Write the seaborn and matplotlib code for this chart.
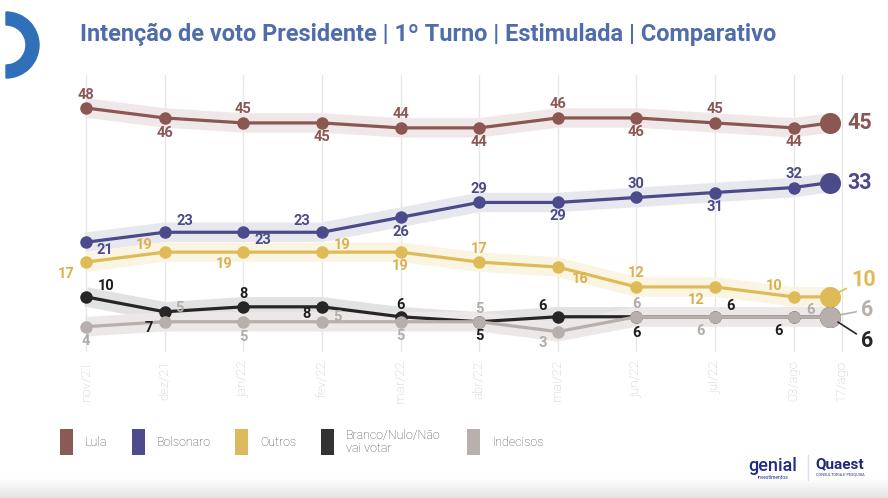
import numpy as np
import pandas as pd
import matplotlib
matplotlib.use("Agg")
import matplotlib.pyplot as plt
import seaborn as sns
from matplotlib.patches import Wedge, Rectangle
from matplotlib import font_manager

# ---------------- data ----------------
periodos = ["nov/21", "dez/21", "jan/22", "fev/22", "mar/22", "abr/22",
            "mai/22", "jun/22", "jul/22", "03/ago", "17/ago"]
x_pontos = [0, 1, 2, 3, 4, 5, 6, 7, 8, 9, 9.46]      # position of each survey
x_ticks = [0, 1, 2, 3, 4, 5, 6, 7, 8, 9, 9.61]       # position of each tick label
series = ["Lula", "Bolsonaro", "Outros", "Branco/Nulo/Não\nvai votar", "Indecisos"]
lula = [48, 46, 45, 45, 44, 44, 46, 46, 45, 44, 45]
bolsonaro = [21, 23, 23, 23, 26, 29, 29, 30, 31, 32, 33]
outros = [17, 19, 19, 19, 19, 17, 16, 12, 12, 10, 10]
branco = [10, 7, 8, 8, 6, 5, 6, 6, 6, 6, 6]
indecisos = [4, 5, 5, 5, 5, 5, 3, 6, 6, 6, 6]
valores = [lula, bolsonaro, outros, branco, indecisos]

# ---------------- style ----------------
cores = ["#8a5753", "#4c4a8a", "#dfbb58", "#262626", "#b6afac"]
cores_rotulo = ["#8a5753", "#4c4a8a", "#d9b24f", "#1e1e1e", "#b3adaa"]
cores_halo = ["#f0e8e8", "#e7e7ee", "#faf5e2", "#e2e2e2", "#ebe8e7"]
cores_legenda = ["#8a5a57", "#4d4b8b", "#dcb95e", "#333333", "#b8b0ad"]

# label offsets in pixels (dx, dy down-positive) for the first 10 points
offs = [
    [(0, -13), (0, 15), (0, -14), (0, 14), (0, -14), (0, 14), (0, -14), (0, 14), (0, -14), (0, 14)],
    [(19, 8), (20, -11), (20, 8), (-20, -11), (0, 15), (0, -13), (0, 14), (0, -13), (0, 14), (0, -14)],
    [(-20, 12), (-20, -7), (-19, 12), (20, -7), (0, 14), (0, -13), (22, 12), (0, -14), (-19, 13), (-19, -11)],
    [(20, -11), (-16, 16), (0, -13), (-15, 7), (0, -12), (0, 14), (-15, -11), (0, 16), (15, -11), (-15, 14)],
    [(0, 14), (15, -14), (0, 15), (15, -5), (0, 14), (0, -13), (-15, 11), (0, -13), (-15, 14), (17, -7)],
]
# final labels: (dx, dy) in px, connector?
final_off = [(18, 0, False), (18, 0, False), (21, -17, True), (31, 24, True), (31, -7, True)]

W, H = 888, 498
fig = plt.figure(figsize=(W / 100, H / 100), dpi=100)
sns.set_style("white")
plt.rcParams["font.family"] = ["Roboto", "DejaVu Sans"]

def px2fig(x0, y0, x1, y1):
    return [x0 / W, 1 - y1 / H, (x1 - x0) / W, (y1 - y0) / H]

ax = fig.add_axes(px2fig(40, 75, 888, 352))
ax.set_xlim(-0.585, 10.2)
ax.set_ylim(-1.09, 54.64)

rows = []
for s, v in zip(series, valores):
    for xp, val in zip(x_pontos, v):
        rows.append({"x": xp, "serie": s, "valor": val})
df = pd.DataFrame(rows)

# gridlines
for xt in x_ticks:
    ax.axvline(xt, color="#e6e6e6", lw=1.0, zorder=0)

# halos
sns.lineplot(data=df, x="x", y="valor", hue="serie", hue_order=series,
             palette=dict(zip(series, cores_halo)), linewidth=14, legend=False,
             ax=ax, zorder=1, solid_capstyle="butt")
for line in ax.lines[len(x_ticks):]:
    line.set_solid_joinstyle("round")

# lines with markers (drawn per series to keep order)
for i, s in enumerate(series):
    sub = df[df.serie == s]
    sns.lineplot(data=sub, x="x", y="valor", color=cores[i], linewidth=2.3,
                 marker="o", markersize=9, markeredgewidth=0, legend=False,
                 ax=ax, zorder=3 + i)
    last = sub.iloc[[-1]]
    sns.scatterplot(data=last, x="x", y="valor", color=cores[i], s=230,
                    linewidth=0, legend=False, ax=ax, zorder=3 + i)

PT = 0.72
for i, s in enumerate(series):
    v = valores[i]
    for j in range(10):
        dx, dy = offs[i][j]
        ax.annotate(str(v[j]), (x_pontos[j], v[j]), xytext=(dx * PT, -dy * PT),
                    textcoords="offset points", ha="center", va="center",
                    fontsize=10.5, fontweight="bold", color=cores_rotulo[i], zorder=10)
    dx, dy, conn = final_off[i]
    kw = {}
    if conn:
        kw["arrowprops"] = dict(arrowstyle="-", color=cores[i], lw=1.2,
                                shrinkA=1, shrinkB=7)
    ax.annotate(str(v[-1]), (x_pontos[-1], v[-1]), xytext=(dx * PT, -dy * PT),
                textcoords="offset points", ha="left", va="center",
                fontsize=15.5, fontweight="bold", color=cores[i], zorder=10, **kw)

ax.set_xticks(x_ticks)
ax.set_xticklabels(periodos, rotation=90, color="#c4c4c4", fontsize=9.5,
                   fontweight="light", va="top")
ax.tick_params(axis="x", length=0, pad=6)
ax.set_yticks([])
ax.set_xlabel("")
ax.set_ylabel("")
for sp in ax.spines.values():
    sp.set_visible(False)
ax.patch.set_alpha(0)

# ---------------- overlay (decorations) ----------------
ov = fig.add_axes([0, 0, 1, 1], zorder=-1)
ov.axis("off")
ov.add_patch(Wedge((6, 45), 33, -90, 90, width=13, color="#2f70b8"))
grad = np.linspace(0, 1, 30).reshape(-1, 1)
ov.imshow(grad, extent=[0, W, 498, 478], cmap=matplotlib.colors.LinearSegmentedColormap.from_list(
    "g", ["#ffffff", "#e4e4e4"]), aspect="auto", zorder=0)
ov.set_xlim(0, W)
ov.set_ylim(H, 0)

# title, fitted to reference width
names = {f.name for f in font_manager.fontManager.ttflist}
tfam = "Liberation Sans Narrow" if "Liberation Sans Narrow" in names else "Roboto"
title = fig.text(80 / W, 1 - 34 / H,
                 "Intenção de voto Presidente | 1º Turno | Estimulada | Comparativo",
                 fontsize=16, fontweight="bold", color="#4f6cab", family=tfam,
                 ha="left", va="center")
r = fig.canvas.get_renderer()
bb = title.get_window_extent(r)
title.set_fontsize(16 * 698 / bb.width)

# legend (manual, pixel positions)
leg_x = [60, 132, 235, 321, 467]
for i, s in enumerate(series):
    ov.add_patch(Rectangle((leg_x[i], 429), 13, 26, facecolor=cores_legenda[i],
                           edgecolor="none", zorder=2))
    ov.text(leg_x[i] + 25, 442, s, fontsize=9, fontweight="light",
            color="#4a4a4a", va="center", ha="left", linespacing=1.0, zorder=2)

# logos as text
ov.text(748, 466, "genial", fontsize=13, color="#1f2a8a", fontweight="medium",
        va="center", ha="left")
ov.text(773, 477, "investimentos", fontsize=3.5, color="#1f2a8a", va="center", ha="center")
ov.plot([808, 808], [455, 480], color="#d8e0ec", lw=1)
ov.text(815, 464, "Quaest", fontsize=11, color="#1d2a7a", fontweight="bold",
        va="center", ha="left")
ov.text(840, 475, "CONSULTORIA E PESQUISA", fontsize=2.8, color="#1d2a7a",
        va="center", ha="center")
ov.set_xlim(0, W)
ov.set_ylim(H, 0)

fig.savefig("out.png", dpi=100)
